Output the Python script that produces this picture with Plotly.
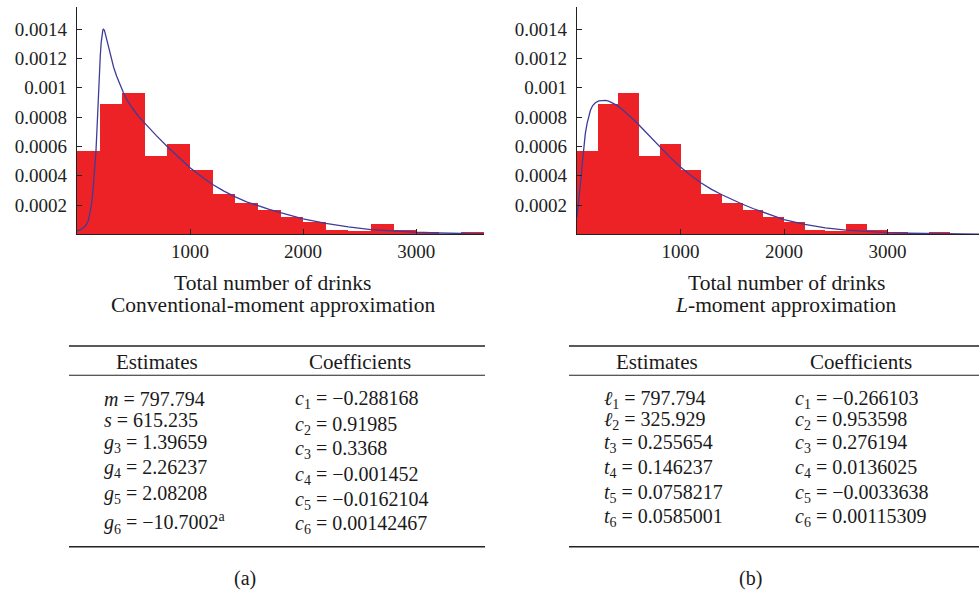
import plotly.graph_objects as go

W, H = 979, 592

# ---------------- data ----------------
bin_edges_left = [0, 200, 400, 600, 800, 1000, 1200, 1400, 1600, 1800, 2000,
                  2200, 2400, 2600, 2800, 3000, 3200, 3400]
bin_density = [0.000565, 0.000886, 0.000966, 0.000536, 0.000614, 0.000436,
               0.000277, 0.000214, 0.000164, 0.000118, 0.000080, 0.000030,
               0.000018, 0.000066, 0.000030, 0.000012, 0.0, 0.000013]
bin_width = 200

conv_x = [0, 40, 65, 85, 103, 118, 130, 144, 156, 168, 177, 185, 196, 206,
          214, 222, 229, 235, 242, 250, 262, 280, 300, 324, 350, 380, 410,
          440, 470, 500, 550, 600, 700, 800, 900, 1000, 1100, 1200, 1300,
          1400, 1500, 1600, 1700, 1800, 1900, 2000, 2200, 2400, 2600, 2800,
          3000, 3200, 3400, 3600]
conv_y = [0.000023, 0.000035, 0.00005, 0.00007, 0.0001, 0.00015, 0.00021,
          0.000325, 0.00043, 0.00057, 0.00072, 0.00088, 0.00107, 0.00122,
          0.00131, 0.00137, 0.001395, 0.00140, 0.001393, 0.00137, 0.00133,
          0.00127, 0.001205, 0.00114, 0.00108, 0.00102, 0.000968, 0.00092,
          0.000883, 0.00085, 0.0008, 0.000757, 0.000675, 0.000598, 0.000525,
          0.000455, 0.000395, 0.00034, 0.000295, 0.000255, 0.000222,
          0.000195, 0.00017, 0.000148, 0.000125, 0.000105, 0.000075, 0.00005,
          0.000032, 0.000021, 0.000014, 0.000009, 0.000005, 0.000003]

lmom_x = [0, 8, 16, 24, 32, 40, 48, 56, 65, 80, 97, 113, 129, 150, 177, 210,
          242, 275, 306, 345, 387, 435, 484, 530, 581, 645, 710, 760, 806,
          900, 1000, 1100, 1200, 1300, 1400, 1500, 1600, 1700, 1800, 1900,
          2000, 2200, 2400, 2600, 2800, 3000, 3200, 3400, 3600, 3900]
lmom_y = [0.000118, 0.000165, 0.00021, 0.000265, 0.00032, 0.00039, 0.00046,
          0.00053, 0.000595, 0.000685, 0.000755, 0.000805, 0.000845,
          0.000877, 0.000898, 0.00091, 0.000914, 0.000914, 0.000909,
          0.000897, 0.00088, 0.000854, 0.000823, 0.000792, 0.00076,
          0.000712, 0.000664, 0.00063, 0.000595, 0.000525, 0.000459,
          0.000401, 0.00035, 0.000307, 0.00027, 0.000236, 0.000205,
          0.000176, 0.00015, 0.000124, 0.0001, 0.000068, 0.000044, 0.000028,
          0.000018, 0.000011, 0.000007, 0.000005, 0.000003, 0.000001]

y_tick_vals = [0.0002, 0.0004, 0.0006, 0.0008, 0.001, 0.0012, 0.0014]
y_tick_text = ["0.0002", "0.0004", "0.0006", "0.0008", "0.001", "0.0012", "0.0014"]
x_tick_vals = [1000, 2000, 3000]
x_tick_text = ["1000", "2000", "3000"]

x_title = "Total number of drinks"
subtitle_a = "Conventional-moment approximation"
subtitle_b = "<i>L</i>-moment approximation"

table_headers = ["Estimates", "Coefficients"]
est_a_names = ["<i>m</i>", "<i>s</i>", "<i>g</i><sub>3</sub>", "<i>g</i><sub>4</sub>",
               "<i>g</i><sub>5</sub>", "<i>g</i><sub>6</sub>"]
est_a_values = ["797.794", "615.235", "1.39659", "2.26237", "2.08208",
                "\u221210.7002<sup>a</sup>"]
coef_a_values = ["\u22120.288168", "0.91985", "0.3368", "\u22120.001452",
                 "\u22120.0162104", "0.00142467"]
est_b_names = ["<i>\u2113</i><sub>1</sub>", "<i>\u2113</i><sub>2</sub>",
               "<i>t</i><sub>3</sub>", "<i>t</i><sub>4</sub>",
               "<i>t</i><sub>5</sub>", "<i>t</i><sub>6</sub>"]
est_b_values = ["797.794", "325.929", "0.255654", "0.146237", "0.0758217",
                "0.0585001"]
coef_names = ["<i>c</i><sub>1</sub>", "<i>c</i><sub>2</sub>", "<i>c</i><sub>3</sub>",
              "<i>c</i><sub>4</sub>", "<i>c</i><sub>5</sub>", "<i>c</i><sub>6</sub>"]
coef_b_values = ["\u22120.266103", "0.953598", "0.276194", "0.0136025",
                 "\u22120.0033638", "0.00115309"]
panel_labels = ["(a)", "(b)"]

# ---------------- style ----------------
FONT = "Liberation Serif"
RED = "#ED2227"
BLUE = "#3D3D99"
AX = "#222222"

def px(x):
    return x / W

def py(y):
    return 1 - y / H

fig = go.Figure()

bin_centers = [e + bin_width / 2 for e in bin_edges_left]
for xa, ya in (("x", "y"), ("x2", "y2")):
    fig.add_trace(go.Bar(x=bin_centers, y=bin_density, width=bin_width,
                         marker=dict(color=RED, line=dict(width=0)),
                         xaxis=xa, yaxis=ya, showlegend=False, hoverinfo="skip"))

fig.add_trace(go.Scatter(x=conv_x, y=conv_y, mode="lines",
                         line=dict(color=BLUE, width=1.3),
                         xaxis="x", yaxis="y", showlegend=False))
fig.add_trace(go.Scatter(x=lmom_x, y=lmom_y, mode="lines",
                         line=dict(color=BLUE, width=1.3),
                         xaxis="x2", yaxis="y2", showlegend=False))

y_dom = [py(234.3), py(7.2)]
common_x = dict(showgrid=False, zeroline=False, showline=True, linecolor=AX, linewidth=1.3,
                ticks="inside", ticklen=5, tickwidth=1.2, tickcolor=AX,
                tickvals=x_tick_vals, ticktext=x_tick_text,
                tickfont=dict(family=FONT, size=19, color="#222"))
common_y = dict(showgrid=False, zeroline=False, showline=True, linecolor=AX, linewidth=1.3,
                ticks="inside", ticklen=5, tickwidth=1.2, tickcolor=AX,
                tickvals=y_tick_vals, ticktext=y_tick_text, range=[0, 0.00155],
                ticklabelstandoff=5,
                tickfont=dict(family=FONT, size=19, color="#222"), domain=y_dom)

fig.update_layout(
    width=W, height=H,
    margin=dict(l=0, r=0, t=0, b=0),
    paper_bgcolor="white", plot_bgcolor="white",
    bargap=0,
    xaxis=dict(common_x, domain=[px(77), px(484)], range=[0, 3600], anchor="y"),
    yaxis=dict(common_y, anchor="x"),
    xaxis2=dict(common_x, domain=[px(577), 1.0], range=[0, 3884], anchor="y2"),
    yaxis2=dict(common_y, anchor="x2"),
)

ann = []
def text(x, y, s, size=19, xanchor="center"):
    ann.append(dict(x=px(x), y=py(y), xref="paper", yref="paper", text=s,
                    showarrow=False, xanchor=xanchor, yanchor="middle",
                    font=dict(family=FONT, size=size, color="#1a1a1a")))

# axis titles
text(272.5, 283, x_title, 21.5)
text(272.5, 305, subtitle_a, 21.5)
text(786, 283, x_title, 21.5)
text(786, 305, subtitle_b, 21.5)

# tables
shapes = []
def hline(x0, x1, y, w):
    shapes.append(dict(type="line", xref="paper", yref="paper", x0=px(x0), x1=px(x1),
                       y0=py(y), y1=py(y), line=dict(color="#222", width=w)))

for (x0, x1, hx1, hx2, lx1, lx2, plab, labx, names, vals, cvals, erows, crows) in (
        (69, 485, 156.7, 359.5, 101.7, 293, panel_labels[0], 244.7, est_a_names, est_a_values,
         coef_a_values, [399, 420, 443, 468, 494, 523], [399, 425, 449, 475, 500, 524]),
        (569, 979, 656.7, 860.8, 601.7, 793, panel_labels[1], 750.8, est_b_names, est_b_values,
         coef_b_values, [399, 420, 443, 468, 493, 517], [399, 420, 443, 468, 493, 517])):
    hline(x0, x1, 346, 1.6)
    hline(x0, x1, 375.3, 1.1)
    hline(x0, x1, 546.7, 1.6)
    text(hx1, 362.3, table_headers[0], 21)
    text(hx2, 362.3, table_headers[1], 21)
    for n, v, yy in zip(names, vals, erows):
        text(lx1, yy, f"{n} = {v}", 20, "left")
    for n, v, yy in zip(coef_names, cvals, crows):
        text(lx2, yy, f"{n} = {v}", 20, "left")
    text(labx, 578.3, plab, 20)

fig.update_layout(annotations=ann, shapes=shapes)
fig.write_html("out.html", config={"displayModeBar": False},
               post_script="document.body.style.margin='0px';"
                           "document.body.style.padding='0px';"
                           "document.documentElement.style.overflow='hidden';")
